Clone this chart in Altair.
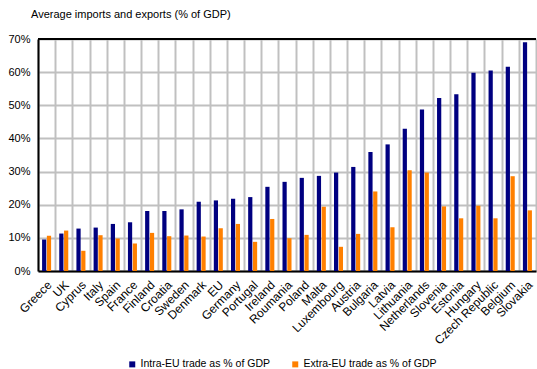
import altair as alt
import pandas as pd

countries = ["Greece", "UK", "Cyprus", "Italy", "Spain", "France", "Finland", "Croatia",
             "Sweden", "Denmark", "EU", "Germany", "Portugal", "Ireland", "Roumania",
             "Poland", "Malta", "Luxembourg", "Austria", "Bulgaria", "Latvia", "Lithuania",
             "Netherlands", "Slovenia", "Estonia", "Hungary", "Czech Republic", "Belgium",
             "Slovakia"]
intra_eu = [9.5, 11.3, 12.8, 13.1, 14.2, 14.7, 18.1, 18.1, 18.6, 20.9, 21.3, 21.8, 22.3,
            25.4, 26.9, 28.1, 28.7, 29.7, 31.4, 35.9, 38.2, 42.9, 48.7, 52.2, 53.3, 59.8,
            60.5, 61.6, 69.0]
extra_eu = [10.6, 12.2, 6.1, 10.8, 9.8, 8.3, 11.5, 10.5, 10.7, 10.4, 12.9, 14.2, 8.8,
            15.7, 9.9, 10.9, 19.4, 7.3, 11.2, 24.0, 13.2, 30.4, 29.7, 19.5, 15.9, 19.7,
            15.9, 28.6, 18.3]
series_names = ["Intra-EU trade as % of GDP", "Extra-EU trade as % of GDP"]
series_colors = ["#000080", "#ff8000"]
y_ticks = [0, 10, 20, 30, 40, 50, 60, 70]

rows = []
for c, a, b in zip(countries, intra_eu, extra_eu):
    rows.append({"country": c, "series": series_names[0], "value": a})
    rows.append({"country": c, "series": series_names[1], "value": b})
df = pd.DataFrame(rows)

FONT = "Liberation Sans"

y_axis = alt.Axis(values=y_ticks, labelExpr="datum.value + '%'", ticks=False,
                  labelPadding=8, gridColor="#c0c0c0", gridWidth=2,
                  domainColor="#000000", domainWidth=2, labelOverlap=False,
                  labelFont=FONT, labelFontSize=11, labelColor="#000000")
y_scale = alt.Scale(domain=[0, 70], nice=False)

bars = alt.Chart(df).mark_bar().encode(
    x=alt.X("country:N", sort=countries, title=None,
            scale=alt.Scale(paddingInner=0, paddingOuter=0),
            axis=alt.Axis(labelAngle=-45, labelAlign="right", labelBaseline="top",
                          labelPadding=8, labelOffset=-1, ticks=False, grid=True,
                          tickBand="extent", gridColor="#c0c0c0", gridWidth=2,
                          domainColor="#000000", domainWidth=2,
                          labelFont=FONT, labelFontSize=12, labelColor="#000000",
                          labelOverlap=False)),
    xOffset=alt.XOffset("series:N", sort=series_names,
                        scale=alt.Scale(paddingOuter=0.85, paddingInner=0.12)),
    y=alt.Y("value:Q", title=None, scale=y_scale, axis=y_axis),
    color=alt.Color("series:N", sort=series_names,
                    scale=alt.Scale(domain=series_names, range=series_colors),
                    legend=alt.Legend(title=None, orient="none", direction="horizontal",
                                      legendX=89, legendY=320,
                                      symbolType="square", symbolSize=36,
                                      symbolStrokeWidth=0, labelOffset=3,
                                      columnPadding=19, labelFont=FONT,
                                      labelFontSize=10.5, labelColor="#000000")),
)

top_line = alt.Chart(df).mark_rule(color="#000000", strokeWidth=2).encode(
    y=alt.YDatum(70, scale=y_scale, axis=y_axis)
)

chart = alt.layer(bars, top_line).properties(
    width=498, height=232,
    autosize=alt.AutoSizeParams(type="none"),
    padding={"left": 38, "top": 39, "right": 1, "bottom": 98},
    title=alt.Title("Average imports and exports (% of GDP)", anchor="start",
                    frame="group", dx=-7, offset=13, font=FONT, fontSize=11,
                    fontWeight="normal", color="#000000"),
).configure_view(stroke=None)

chart.save("out.html", embed_options={"renderer": "svg", "actions": False})
